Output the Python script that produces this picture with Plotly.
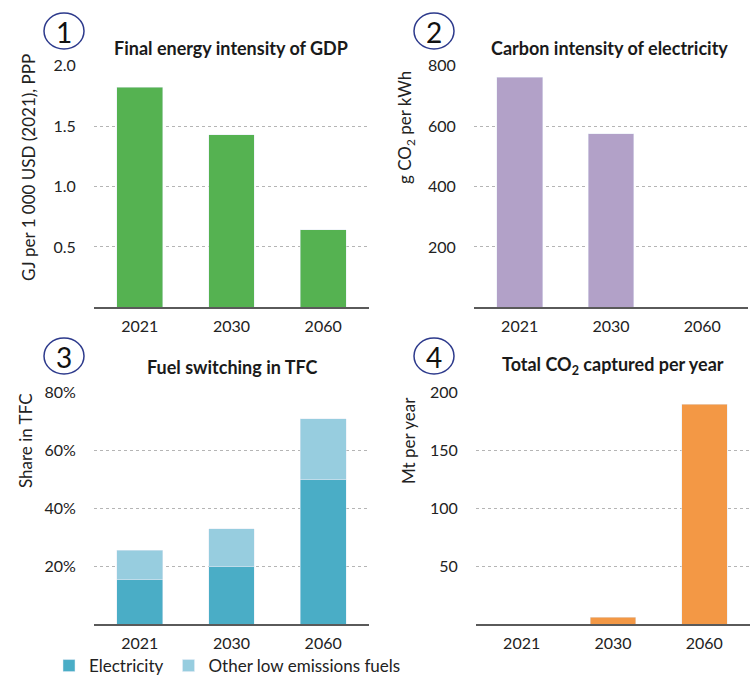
import plotly.graph_objects as go

# Years shown on every panel
years = ["2021", "2030", "2060"]

# Panel 1: final energy intensity of GDP (GJ per 1 000 USD (2021), PPP)
energy_intensity = [1.82, 1.43, 0.64]

# Panel 2: carbon intensity of electricity (g CO2 per kWh)
carbon_intensity = [762, 575, 0]

# Panel 3: shares in total final consumption (%)
share_electricity = [15.5, 20, 50]
share_other_low = [10, 13, 21]

# Panel 4: total CO2 captured (Mt per year)
co2_captured = [0, 6, 190]

FONT = "Lato"
W, H = 750, 678

GREEN = "#55b251"
PURPLE = "#b2a1c8"
ELEC = "#4aadc6"
OTHER = "#97cddf"
ORANGE = "#f39845"


def px_x(v):
    return v / W


def px_y(v):
    return 1 - v / H


fig = go.Figure()

fig.add_trace(go.Bar(x=years, y=energy_intensity, marker_color=GREEN,
                     xaxis="x", yaxis="y", showlegend=False))
fig.add_trace(go.Bar(x=years, y=carbon_intensity, marker_color=PURPLE,
                     xaxis="x2", yaxis="y2", showlegend=False))
fig.add_trace(go.Bar(x=years, y=share_electricity, marker_color=ELEC,
                     name="Electricity", xaxis="x3", yaxis="y3"))
fig.add_trace(go.Bar(x=years, y=share_other_low, marker_color=OTHER,
                     name="Other low emissions fuels", xaxis="x3", yaxis="y3"))
fig.add_trace(go.Bar(x=years, y=co2_captured, marker_color=ORANGE,
                     xaxis="x4", yaxis="y4", showlegend=False))

top_y = [px_y(307.3), px_y(65.7)]
bot_y = [px_y(624), px_y(392.7)]
left_x = [px_x(94), px_x(369)]
right_x_top = [px_x(474), px_x(748)]
right_x_bot = [px_x(476), 1.0]

tick_font = dict(family=FONT, size=16, color="#222222")


def xaxis(domain, anchor):
    return dict(domain=domain, anchor=anchor, type="category",
                showgrid=False, zeroline=False,
                showline=True, linecolor="#5a5a5a", linewidth=1.5,
                ticks="outside", ticklen=4, tickcolor="rgba(0,0,0,0)",
                tickfont=tick_font, fixedrange=True)


def yaxis(domain, anchor, rng, tickvals, ticktext):
    return dict(domain=domain, anchor=anchor, range=rng,
                tickvals=tickvals, ticktext=ticktext,
                showgrid=True, gridcolor="#b5b5b5", griddash="dot", gridwidth=1,
                zeroline=False, showline=False,
                ticks="outside", ticklen=14, tickcolor="rgba(0,0,0,0)",
                tickfont=tick_font, fixedrange=True)


fig.update_layout(
    width=W, height=H,
    margin=dict(l=0, r=0, t=0, b=0, autoexpand=False),
    paper_bgcolor="white", plot_bgcolor="white",
    barmode="stack", bargap=0.5,
    font=dict(family=FONT, color="#222222"),
    xaxis=xaxis(left_x, "y"),
    yaxis=yaxis(top_y, "x", [0, 2.0], [0.5, 1.0, 1.5, 2.0], ["0.5", "1.0", "1.5", "2.0"]),
    xaxis2=xaxis(right_x_top, "y2"),
    yaxis2=yaxis(top_y, "x2", [0, 800], [200, 400, 600, 800], ["200", "400", "600", "800"]),
    xaxis3=xaxis(left_x, "y3"),
    yaxis3=yaxis(bot_y, "x3", [0, 80], [20, 40, 60, 80], ["20%", "40%", "60%", "80%"]),
    xaxis4=xaxis(right_x_bot, "y4"),
    yaxis4=yaxis(bot_y, "x4", [0, 200], [50, 100, 150, 200], ["50", "100", "150", "200"]),
    legend=dict(orientation="h", x=px_x(49), y=px_y(666), xanchor="left", yanchor="middle",
                font=dict(family=FONT, size=17, color="#222222"),
                itemwidth=30, tracegroupgap=0, traceorder="normal",
                bgcolor="rgba(0,0,0,0)"),
)

# Panel titles
titles = [
    ("Final energy intensity of GDP", 231, 48),
    ("Carbon intensity of electricity", 609, 48),
    ("Fuel switching in TFC", 233, 367),
    ("Total CO<sub>2</sub> captured per year", 613, 366),
]
for text, cx, cy in titles:
    fig.add_annotation(text="<b>%s</b>" % text, x=px_x(cx), y=px_y(cy),
                       xref="paper", yref="paper", showarrow=False,
                       xanchor="center", yanchor="middle",
                       font=dict(family=FONT, size=18, color="#1a1a1a"))

# Vertical axis titles
axis_titles = [
    ("GJ per 1 000 USD (2021), PPP", 29, 168),
    ("g CO<sub>2</sub> per kWh", 406, 128),
    ("Share in TFC", 25, 441),
    ("Mt per year", 408, 441),
]
for text, cx, cy in axis_titles:
    fig.add_annotation(text=text, x=px_x(cx), y=px_y(cy),
                       xref="paper", yref="paper", showarrow=False,
                       textangle=-90, xanchor="center", yanchor="middle",
                       font=dict(family=FONT, size=17, color="#222222"))

# Circled panel numbers
badges = [("1", 64, 31), ("2", 434, 31), ("3", 64, 356), ("4", 434, 356)]
for num, cx, cy in badges:
    fig.add_shape(type="circle", xref="paper", yref="paper",
                  x0=px_x(cx - 20), x1=px_x(cx + 20),
                  y0=px_y(cy + 18), y1=px_y(cy - 18),
                  line=dict(color="#2d3a8c", width=1.5), fillcolor="rgba(0,0,0,0)")
    fig.add_annotation(text=num, x=px_x(cx), y=px_y(cy + 1),
                       xref="paper", yref="paper", showarrow=False,
                       xanchor="center", yanchor="middle",
                       font=dict(family=FONT, size=28, color="#111111"))

fig.write_html("out.html")
